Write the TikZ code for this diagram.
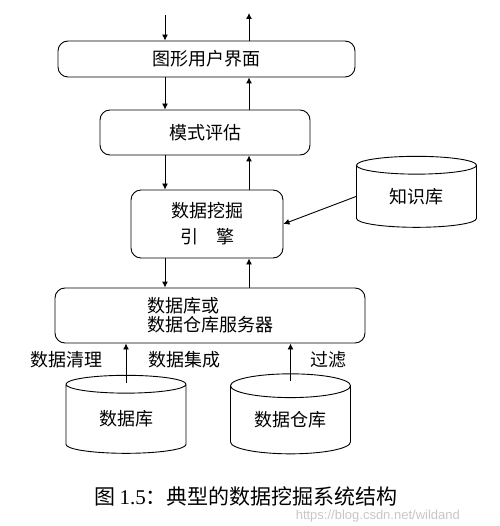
\documentclass[tikz,border=0pt]{standalone}
\usepackage{fontspec}
\setmainfont{Liberation Serif}
\newfontfamily\cjk{Noto Sans CJK SC}
\newfontfamily\wmfont{Liberation Sans}
\usetikzlibrary{arrows.meta,shapes.geometric}

\begin{document}
\begin{tikzpicture}[x=1pt,y=-1pt,
        >={Latex[length=6pt,width=6pt]},
        line width=0.9pt,
        txt/.style={font=\cjk\fontsize{18}{19}\selectfont},
        box/.style={txt,draw,rounded corners=10pt,inner sep=0pt},
        store/.style={txt,draw,cylinder,shape border rotate=90,aspect=0.33,
            minimum width=120pt,minimum height=#1,inner sep=0pt}]
        \useasboundingbox (0,0) rectangle (499,526);
        % layers of the system
        \node[box,minimum width=297pt,minimum height=36pt] (gui) at (206.5,59) {图形用户界面};
        \node[box,minimum width=210pt,minimum height=45pt] (eval) at (205,132.5) {模式评估};
        \node[box,minimum width=152pt,minimum height=68pt,align=center,
            font=\cjk\fontsize{18}{26}\selectfont] (mine) at (207,224) {数据挖掘\\引\quad 擎};
        \node[box,minimum width=310pt,minimum height=55pt,align=left] (srv) at (210,315.5) {数据库或\\数据仓库服务器};
        % stores
        \node[store=71pt] (kb) at (416.5,196.5) {知识库};
        \node[store=78pt] (db) at (126,419) {数据库};
        \node[store=80pt] (dw) at (290.5,420) {数据仓库};
        % down and up flows
        \coordinate (dn) at (165,15);
        \coordinate (up) at (249,13);
        \draw[->] (dn) -- (gui.north -| dn);
        \draw[->] (gui.north -| up) -- (up);
        \draw[->] (gui.south -| dn) -- (eval.north -| dn);
        \draw[->] (eval.north -| up) -- (gui.south -| up);
        \draw[->] (eval.south -| dn) -- (mine.north -| dn);
        \draw[->] (mine.north -| up) -- (eval.south -| up);
        \draw[->] (mine.south -| dn) -- (srv.north -| dn);
        \draw[->] (srv.north -| up) -- (mine.south -| up);
        \draw[->] (kb.west) -- (mine.east);
        \draw[->] ([yshift=-8pt]db.north) -- (srv.south -| db.north);
        \draw[->] ([yshift=-8pt]dw.north) -- (srv.south -| dw.north);
        % labels on the inputs
        \node[txt,anchor=east] (clean) at (106,360) {数据清理};
        \node[txt,anchor=west] (integ) at (145,360) {数据集成};
        \node[txt,anchor=west] (filt) at (307,360) {过滤};
        % caption
        \node[font=\cjk\fontsize{21}{22}\selectfont] (cap) at (246,496) {图 {\rmfamily 1.5}：典型的数据挖掘系统结构};
        \node[font=\wmfont\fontsize{13}{13}\selectfont,text=gray!45,anchor=west] (wm) at (292,516) {https://blog.csdn.net/wildand};
    \end{tikzpicture}
\end{document}
